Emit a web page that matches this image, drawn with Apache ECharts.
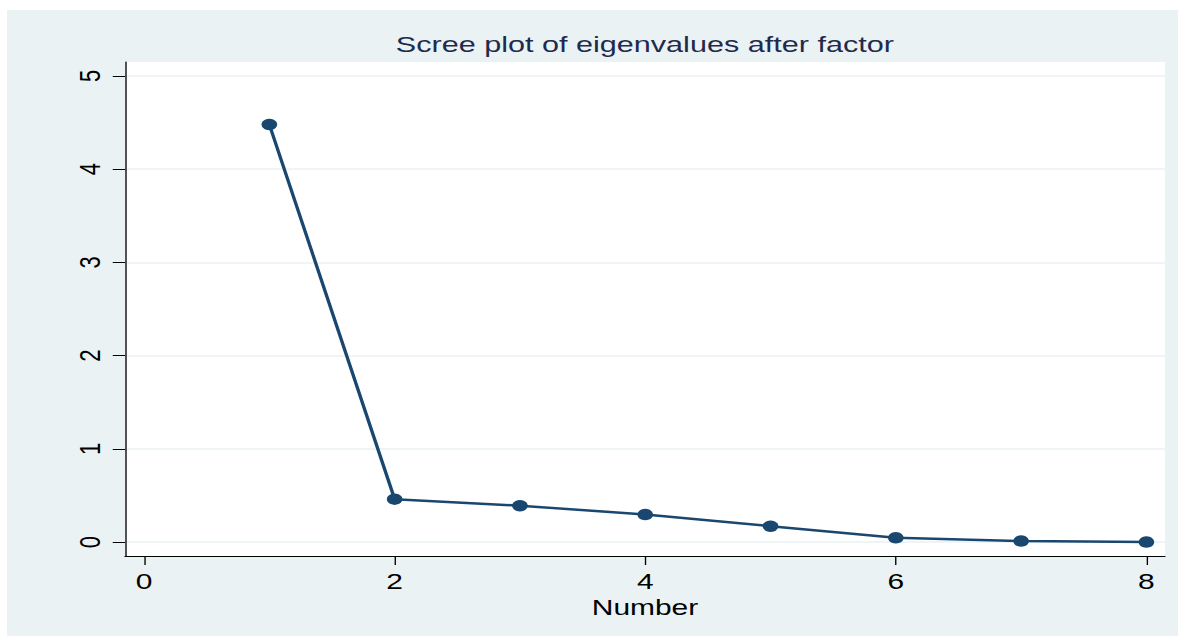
<!DOCTYPE html>
<html>
<head>
<meta charset="utf-8">
<script src="https://cdn.jsdelivr.net/npm/echarts@6/dist/echarts.min.js"></script>
<style>
  html, body { margin: 0; padding: 0; background: #ffffff; width: 1187px; height: 637px; overflow: hidden; }
  #chart { position: absolute; left: 7px; top: 10px; width: 861px; height: 626px; transform: scaleX(1.36); transform-origin: 0 0; }
</style>
</head>
<body>
<div id="chart"></div>
<script>
// ---- data ----
const titleText = 'Scree plot of eigenvalues after factor';
const xAxisName = 'Number';
const factorNumber = [1, 2, 3, 4, 5, 6, 7, 8];
const eigenvalues = [4.48, 0.46, 0.39, 0.295, 0.17, 0.045, 0.01, 0.00];
const xTicks = [0, 2, 4, 6, 8];
const yTicks = [0, 1, 2, 3, 4, 5];

const chart = echarts.init(document.getElementById('chart'), null, { renderer: 'svg' });
const font = 'Liberation Sans, Arial, Helvetica, sans-serif';

chart.setOption({
  backgroundColor: '#eaf2f3',
  animation: false,
  title: {
    text: titleText,
    left: 469,
    textAlign: 'center',
    top: 23,
    padding: 0,
    textStyle: { fontFamily: font, fontSize: 22.5, fontWeight: 'normal', color: '#1f2b4d' }
  },
  grid: {
    left: 86.76, right: 9.56, top: 52, bottom: 80,
    show: true, backgroundColor: '#ffffff', borderWidth: 0
  },
  xAxis: {
    type: 'value',
    min: -0.152, max: 8.148,
    name: xAxisName,
    nameLocation: 'middle',
    nameGap: 33,
    nameTextStyle: { fontFamily: font, fontSize: 22, color: '#000000' },
    axisLine: { show: true, onZero: false, lineStyle: { color: '#000000', width: 1 } },
    axisTick: { show: true, length: 9, customValues: xTicks, lineStyle: { color: '#000000', width: 1 } },
    axisLabel: { customValues: xTicks, fontFamily: font, fontSize: 22, color: '#000000', margin: 14 },
    splitLine: { show: false }
  },
  yAxis: {
    type: 'value',
    min: -0.15, max: 5.15,
    axisLine: { show: true, onZero: false, lineStyle: { color: '#000000', width: 1 } },
    axisTick: { show: true, length: 9, customValues: yTicks, lineStyle: { color: '#000000', width: 1 } },
    axisLabel: { customValues: yTicks, rotate: 90, fontFamily: font, fontSize: 22, color: '#000000', margin: 15 },
    splitLine: { show: true, lineStyle: { color: '#eaf2f3', width: 1.5 } }
  },
  series: [{
    type: 'line',
    data: factorNumber.map((n, i) => [n, eigenvalues[i]]),
    symbol: 'circle',
    symbolSize: 11.5,
    lineStyle: { color: '#1a476f', width: 2.5 },
    itemStyle: { color: '#1a476f', borderWidth: 0 },
    z: 3
  }]
});
</script>
</body>
</html>
